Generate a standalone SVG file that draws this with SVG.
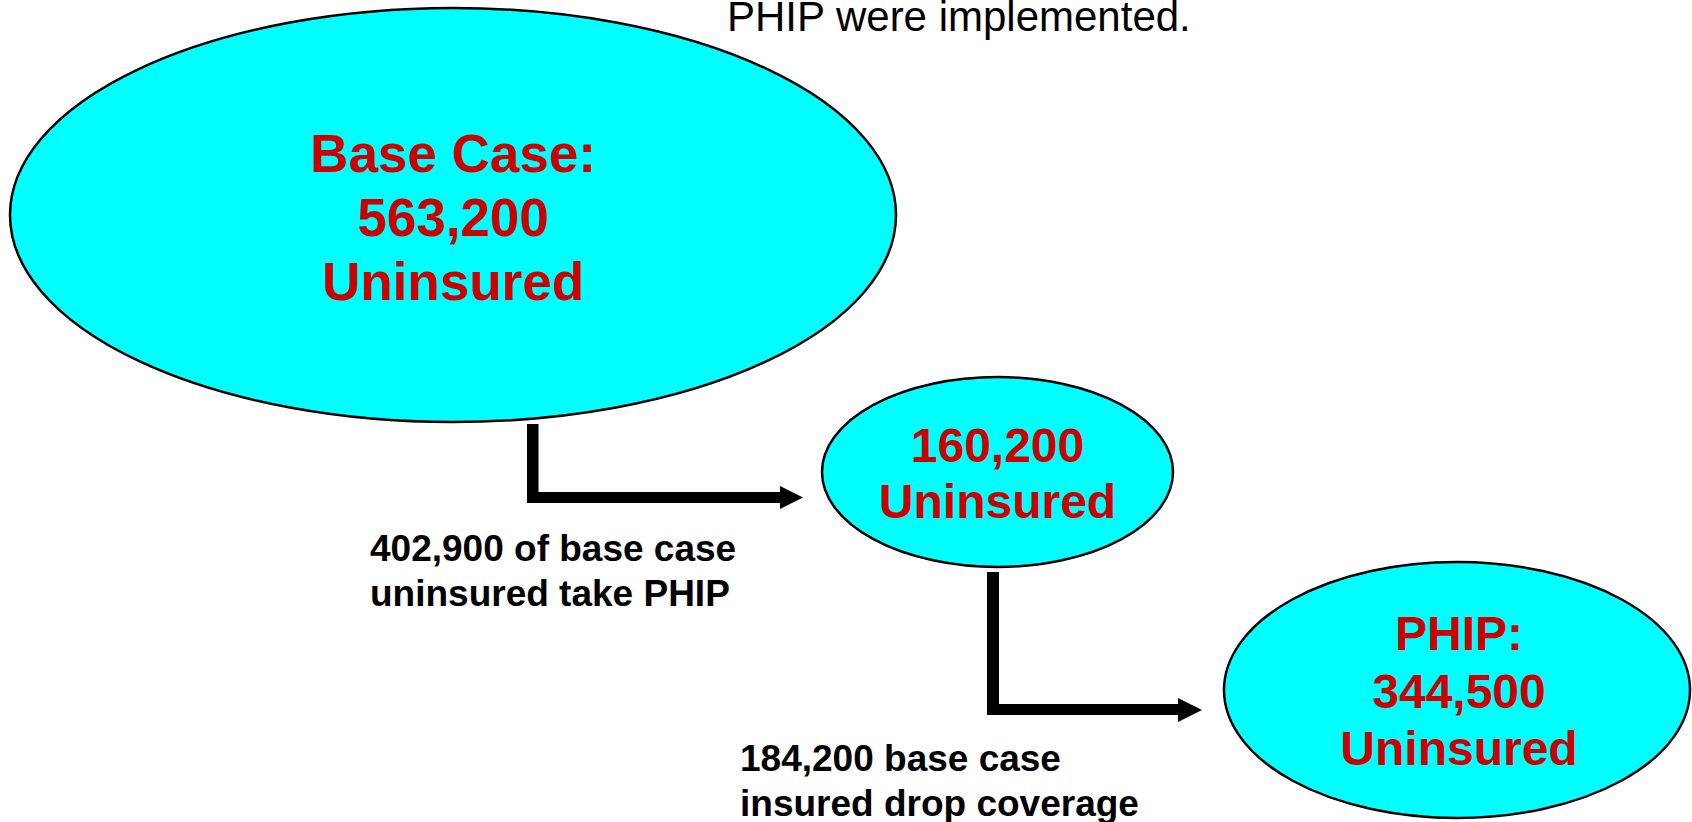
<svg xmlns="http://www.w3.org/2000/svg" width="1692" height="822" viewBox="0 0 1692 822">
  <style>
    .node { fill: #00FFFF; stroke: #000000; stroke-width: 2.5; }
    .val { font-family: "Liberation Sans", Arial, sans-serif; font-weight: bold; fill: #CC0000; text-anchor: middle; }
    .lbl { font-family: "Liberation Sans", Arial, sans-serif; font-weight: bold; font-size: 37px; fill: #000000; }
    .note { font-family: "Liberation Sans", Arial, sans-serif; font-size: 42px; fill: #000000; }
    .bar { fill: #000000; }
  </style>
  <rect width="1692" height="822" fill="#FFFFFF"/>

  <!-- trailing line of the caption above the chart -->
  <text class="note" x="727" y="31">PHIP were implemented.</text>

  <g id="base-case">
    <ellipse class="node" cx="453" cy="215" rx="443" ry="207"/>
    <text class="val" font-size="53" x="453" y="172">Base Case:</text>
    <text class="val" font-size="53" x="453" y="236">563,200</text>
    <text class="val" font-size="53" x="453" y="300">Uninsured</text>
  </g>

  <g id="interim">
    <ellipse class="node" cx="997.5" cy="472" rx="175.5" ry="95"/>
    <text class="val" font-size="48" x="997.5" y="462">160,200</text>
    <text class="val" font-size="48" x="997.5" y="518">Uninsured</text>
  </g>

  <g id="phip">
    <ellipse class="node" cx="1457" cy="690" rx="233" ry="128"/>
    <text class="val" font-size="48" x="1459" y="650">PHIP:</text>
    <text class="val" font-size="48" x="1459" y="708">344,500</text>
    <text class="val" font-size="48" x="1459" y="765">Uninsured</text>
  </g>

  <g id="connectors">
    <!-- base case to interim -->
    <rect class="bar" x="527" y="424" width="11.5" height="79"/>
    <rect class="bar" x="536" y="492" width="246" height="11"/>
    <polygon class="bar" points="780,486 803,497.5 780,509"/>
    <!-- interim to PHIP -->
    <rect class="bar" x="987" y="572" width="12" height="143"/>
    <rect class="bar" x="997" y="704" width="183" height="11"/>
    <polygon class="bar" points="1178,698 1202,710 1178,722"/>
  </g>

  <g id="labels">
    <text class="lbl" x="370" y="561">402,900 of base case</text>
    <text class="lbl" x="370" y="606">uninsured take PHIP</text>
    <text class="lbl" x="740" y="771">184,200 base case</text>
    <text class="lbl" x="740" y="816">insured drop coverage</text>
  </g>
</svg>
